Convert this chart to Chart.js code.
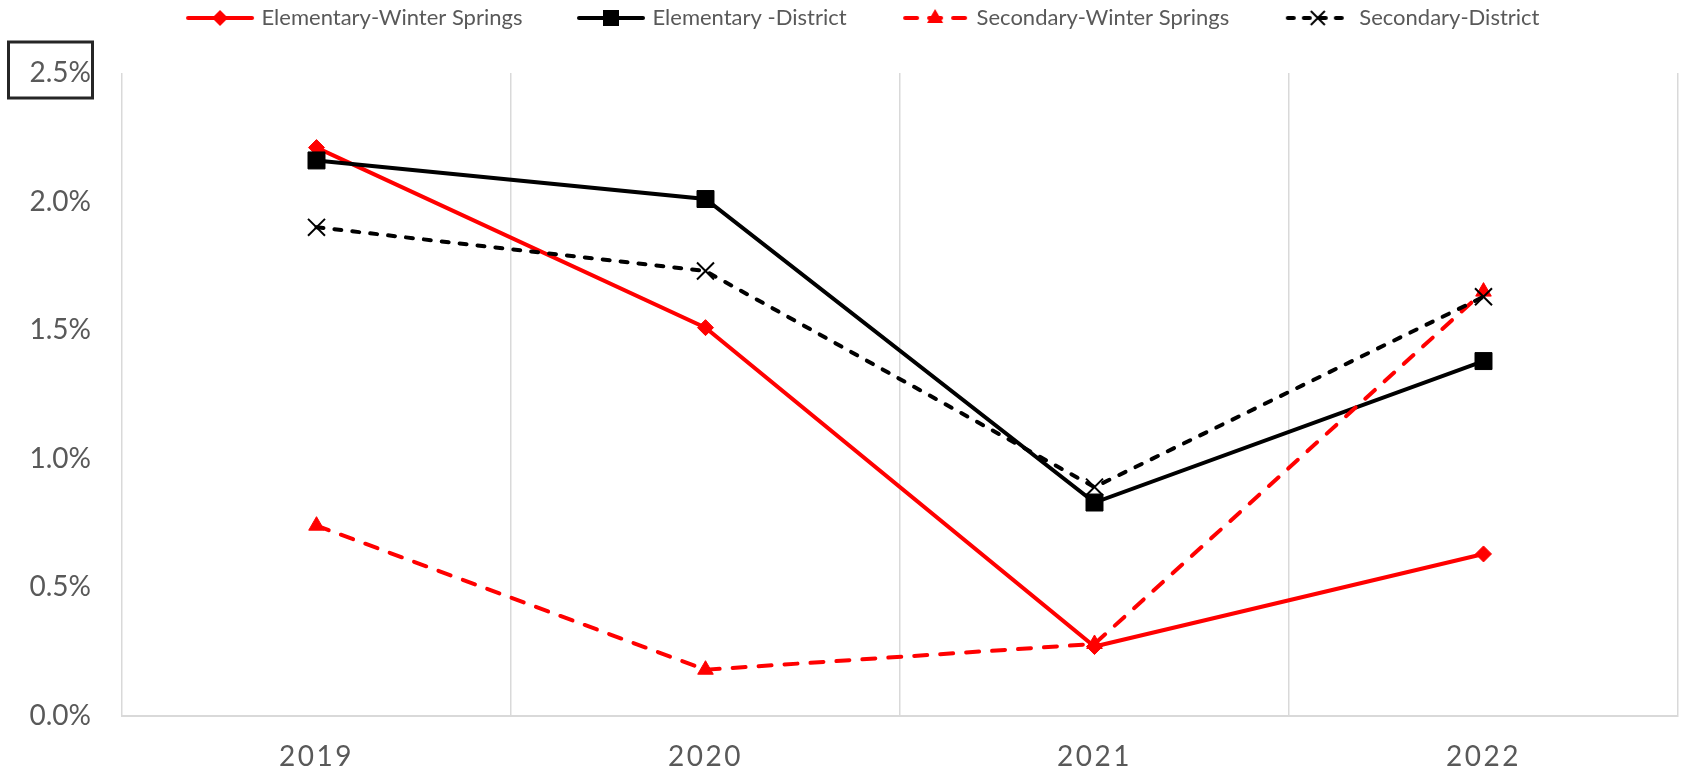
<!DOCTYPE html>
<html><head><meta charset="utf-8">
<script src="https://cdn.jsdelivr.net/npm/chart.js@4.4.1/dist/chart.umd.min.js"></script>
<style>html,body{margin:0;padding:0;background:#fff;overflow:hidden}canvas{display:block}</style>
</head><body>
<canvas id="c" width="1684" height="772"></canvas>
<script>
const categories = ['2019', '2020', '2021', '2022'];
const seriesNames = ['Elementary-Winter Springs', 'Elementary -District', 'Secondary-Winter Springs', 'Secondary-District'];
const elemWinterSprings = [2.21, 1.51, 0.27, 0.63];
const elemDistrict = [2.16, 2.01, 0.83, 1.38];
const secWinterSprings = [0.74, 0.18, 0.28, 1.65];
const secDistrict = [1.90, 1.73, 0.89, 1.63];
const yMin = 0, yMax = 2.5, yStep = 0.5;

const RED = '#ff0000', BLACK = '#000000', TXT = '#595959', GRID = '#d9d9d9';
const FONT = 'Lato';

function legendImg(kind) {
  const W = 121, H = 26, c = document.createElement('canvas');
  c.width = W; c.height = H;
  const g = c.getContext('2d');
  const x0 = W - 70, cy = H / 2, cx = x0 + 35;
  g.lineCap = 'round'; g.lineWidth = 4;
  const col = (kind === 0 || kind === 2) ? RED : BLACK;
  g.strokeStyle = col; g.fillStyle = col;
  if (kind === 2) { g.setLineDash([12, 12]); g.lineDashOffset = -2; }
  if (kind === 3) { g.setLineDash([6, 10]); g.lineDashOffset = -2; }
  g.beginPath(); g.moveTo(x0 + 3, cy); g.lineTo(W - 3, cy); g.stroke();
  g.setLineDash([]);
  g.beginPath();
  if (kind === 0) {
    g.moveTo(cx, cy - 8); g.lineTo(cx + 8, cy); g.lineTo(cx, cy + 8); g.lineTo(cx - 8, cy); g.closePath(); g.fill();
  } else if (kind === 1) {
    g.rect(cx - 8, cy - 8, 16, 16); g.fill();
  } else if (kind === 2) {
    g.moveTo(cx, cy - 9); g.lineTo(cx + 8, cy + 5); g.lineTo(cx - 8, cy + 5); g.closePath(); g.fill();
  } else {
    g.lineWidth = 2; g.lineCap = 'butt';
    g.moveTo(cx - 7, cy - 7); g.lineTo(cx + 7, cy + 7); g.moveTo(cx + 7, cy - 7); g.lineTo(cx - 7, cy + 7); g.stroke();
  }
  return c;
}
const legendImgs = [0, 1, 2, 3].map(legendImg);

const letterSpacingPlugin = {
  id: 'xLetterSpacing',
  afterLayout(chart) {
    const s = chart.scales.x;
    if (s && !s._lsWrapped) {
      const orig = s.drawLabels.bind(s);
      s.drawLabels = function (area) {
        const ctx = this.ctx; ctx.save(); ctx.letterSpacing = '2.5px'; orig(area); ctx.restore();
      };
      s._lsWrapped = true;
    }
  }
};

const boxPlugin = {
  id: 'topLabelBox',
  afterDraw(chart) {
    const y = chart.scales.y;
    const p = y.getPixelForValue(yMax);
    const ctx = chart.ctx;
    ctx.save();
    ctx.strokeStyle = '#262626'; ctx.lineWidth = 3;
    ctx.strokeRect(8.5, p - 31, 84, 56);
    ctx.restore();
  }
};

new Chart(document.getElementById('c'), {
  type: 'line',
  data: {
    labels: categories,
    datasets: [
      { label: seriesNames[0], data: elemWinterSprings, borderColor: RED, backgroundColor: RED, borderWidth: 4,
        pointStyle: 'rectRot', pointRadius: 8, pointBackgroundColor: RED, pointBorderColor: RED, pointBorderWidth: 1, order: 4 },
      { label: seriesNames[1], data: elemDistrict, borderColor: BLACK, backgroundColor: BLACK, borderWidth: 4,
        pointStyle: 'rect', pointRadius: 12, pointBackgroundColor: BLACK, pointBorderColor: BLACK, pointBorderWidth: 1, order: 3 },
      { label: seriesNames[2], data: secWinterSprings, borderColor: RED, backgroundColor: RED, borderWidth: 4,
        borderDash: [13, 13], borderCapStyle: 'round',
        pointStyle: 'triangle', pointRadius: 9, pointBackgroundColor: RED, pointBorderColor: RED, pointBorderWidth: 1, order: 2 },
      { label: seriesNames[3], data: secDistrict, borderColor: BLACK, backgroundColor: BLACK, borderWidth: 4,
        borderDash: [7, 11], borderCapStyle: 'round',
        pointStyle: 'crossRot', pointRadius: 12, pointBackgroundColor: BLACK, pointBorderColor: BLACK, pointBorderWidth: 2, order: 1 }
    ]
  },
  options: {
    responsive: false,
    devicePixelRatio: 1,
    animation: false,
    layout: { autoPadding: false, padding: { top: 0, right: 6, left: 0, bottom: 0 } },
    elements: { line: { tension: 0 } },
    plugins: {
      tooltip: { enabled: false },
      subtitle: { display: true, text: '', weight: 500, font: { size: 10 }, padding: { top: 22, bottom: 0 } },
      legend: {
        position: 'top',
        labels: {
          font: { family: FONT, size: 22 },
          color: TXT,
          usePointStyle: true,
          pointStyleWidth: 112,
          padding: 7,
          generateLabels(chart) {
            return chart.data.datasets.map((ds, i) => ({
              text: ds.label, pointStyle: legendImgs[i], fillStyle: 'rgba(0,0,0,0)',
              strokeStyle: 'rgba(0,0,0,0)', lineWidth: 0, hidden: false, datasetIndex: i, fontColor: TXT
            }));
          }
        }
      }
    },
    scales: {
      x: {
        offset: true,
        grid: { display: true, offset: true, color: GRID, lineWidth: 1.5, drawTicks: false },
        border: { display: true, color: GRID, width: 2 },
        ticks: { font: { family: FONT, size: 28 }, color: TXT, padding: 24 },
        afterFit(s) { s.height = 56; s.paddingLeft = 0; s.paddingRight = 0; }
      },
      y: {
        min: yMin, max: yMax,
        grid: { display: false, drawTicks: false },
        border: { display: false },
        ticks: { stepSize: yStep, font: { family: FONT, size: 28 }, color: TXT, padding: 31,
          callback: v => Number(v).toFixed(1) + '%' },
        afterFit(s) { s.width = 122; }
      }
    }
  },
  plugins: [letterSpacingPlugin, boxPlugin]
});
</script>
</body></html>
